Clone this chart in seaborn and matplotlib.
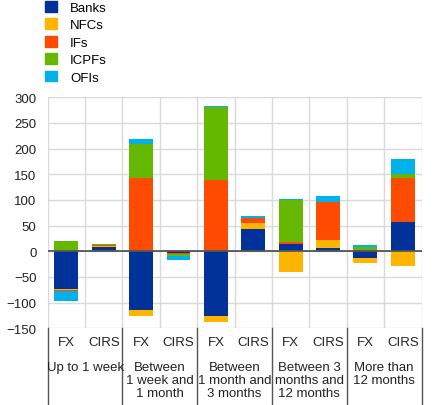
import numpy as np
import pandas as pd
import matplotlib
matplotlib.use("Agg")
import matplotlib.pyplot as plt
import matplotlib.patches as mpatches
import matplotlib.transforms as mtransforms
import seaborn as sns

# Data (EUR billions)
groups = ["Up to 1 week", "Between\n1 week and\n1 month", "Between\n1 month and\n3 months",
          "Between 3\nmonths and\n12 months", "More than\n12 months"]
instruments = ["FX", "CIRS"]
sectors = ["Banks", "NFCs", "IFs", "ICPFs", "OFIs"]
colors = ["#003299", "#FFB400", "#FF4B00", "#65B800", "#00B1EA"]

# one value per bar: FX, CIRS for each maturity bucket
banks = [-73, 9, -114, -2.5, -126, 44, 14, 6, -13, 57]
nfcs = [-2, 0.5, -12, 0, -11, 12, -40, 16, -9, -28]
ifs = [-2, 2, 142, -3, 138, 9, 4, 74, 2, 86]
icpfs = [20, 2, 67, -3, 144, -2, 82, -2, 6, 8]
ofis = [-20, -2, 10, -8.5, 2, 4, 2, 12, 5, 29]

series = [banks, nfcs, ifs, icpfs, ofis]

bar_ids = [f"{g}|{i}" for g in groups for i in instruments]
vals = np.array(series, dtype=float)
pos_cum = np.cumsum(np.clip(vals, 0, None), axis=0)
neg_cum = np.cumsum(np.clip(vals, None, 0), axis=0)

plt.rcParams["font.family"] = ["Liberation Sans", "DejaVu Sans"]
plt.rcParams["font.size"] = 9

W, H = 437, 406
fig = plt.figure(figsize=(W / 100, H / 100), dpi=100)
ax = fig.add_axes([47.7 / W, 1 - 329.3 / H, (421.5 - 47.7) / W, (329.3 - 98.3) / H])

# stacked bars: draw cumulative totals from the outermost layer inwards
for k in range(len(sectors) - 1, -1, -1):
    for cum in (pos_cum, neg_cum):
        df = pd.DataFrame({"bar": bar_ids, "value": cum[k]})
        sns.barplot(data=df, x="bar", y="value", order=bar_ids, color=colors[k],
                    saturation=1, width=0.64, errorbar=None, ax=ax, zorder=3)

ax.set_ylim(-150, 300)
ax.set_xlim(-0.5, 9.5)
ax.set_yticks(np.arange(-150, 301, 50))
ax.set_xticks([])
ax.set_xlabel("")
ax.set_ylabel("")
for s in ax.spines.values():
    s.set_visible(False)
ax.tick_params(axis="y", length=0, pad=8, labelsize=9.5, colors="#222222")

for y in np.arange(-150, 301, 50):
    ax.axhline(y, color="#d9d9d9", lw=1, zorder=1)
for x in np.arange(-0.5, 10, 1):
    ax.axvline(x, color="#d9d9d9", lw=1, zorder=1)
ax.axhline(0, color="#555555", lw=1.3, zorder=4)

# category axis below the plot
trans = mtransforms.blended_transform_factory(ax.transData, fig.transFigure)
for j, bid in enumerate(bar_ids):
    ax.text(j, 1 - 343.5 / H, bid.split("|")[1], transform=trans, ha="center", va="center",
            fontsize=9.5, color="#222222")
for g, name in enumerate(groups):
    ax.text(2 * g + 0.5, 1 - 362 / H, name, transform=trans, ha="center", va="top",
            fontsize=9.5, linespacing=1.12, color="#222222")
for x in np.arange(-0.5, 10, 2):
    ax.plot([x, x], [1 - 329.3 / H, 0], transform=trans, color="#555555", lw=1, clip_on=False)

handles = [mpatches.Patch(color=c, label=s) for c, s in zip(colors, sectors)]
fig.legend(handles=handles, loc="upper left", bbox_to_anchor=(45 / W, 1 - 2 / H), frameon=False,
           borderpad=0, borderaxespad=0, handlelength=0.9, handleheight=0.9,
           handletextpad=1.0, labelspacing=0.33, fontsize=9.5)

fig.savefig("out.png", dpi=100)
